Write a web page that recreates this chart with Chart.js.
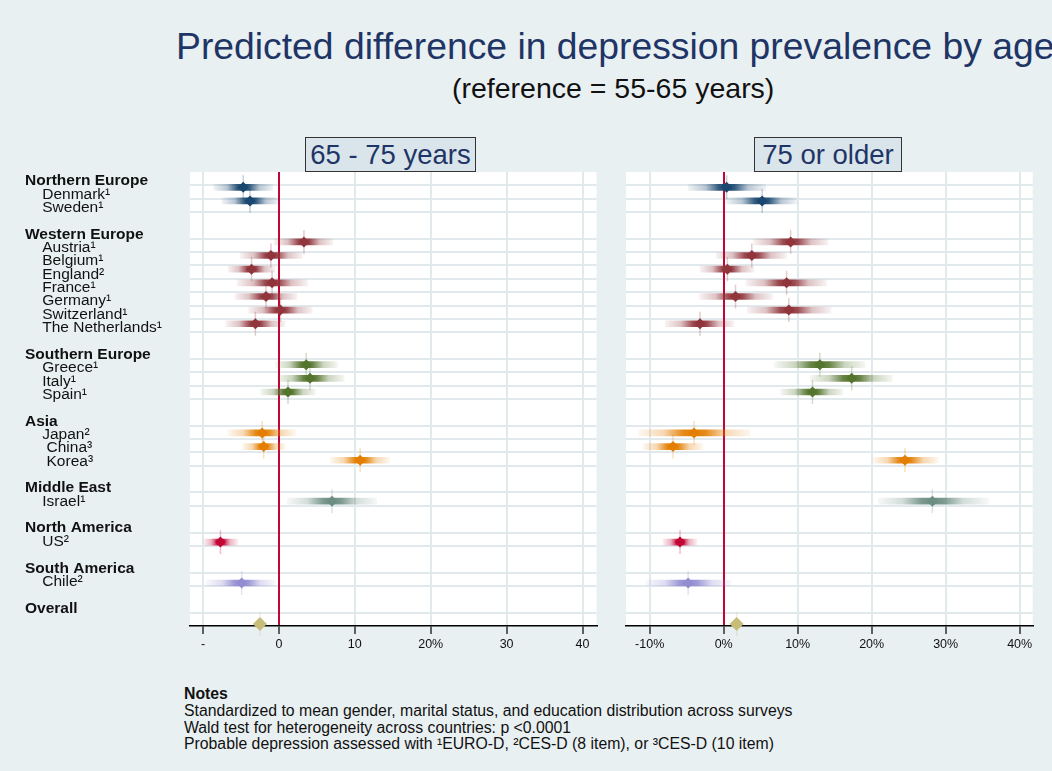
<!DOCTYPE html>
<html>
<head>
<meta charset="utf-8">
<script src="https://cdn.jsdelivr.net/npm/chart.js@4"></script>
<style>
  html, body { margin:0; padding:0; width:1052px; height:771px; overflow:hidden; background:#e9f0f2;
    font-family:"Liberation Sans", Arial, sans-serif; }
  .abs { position:absolute; white-space:nowrap; }
  #title { left:176px; top:28px; font-size:37.3px; line-height:1; color:#1f3566; }
  #subtitle { left:452px; top:74px; font-size:28.5px; line-height:1; color:#111; }
  .panel { box-sizing:border-box; border:1px solid #333; background:#d9e5eb; color:#1f3566;
    font-size:27.5px; text-align:center; height:35px; line-height:33px; top:137px; }
  #notes { left:184px; top:686px; font-size:15.8px; line-height:16.8px; color:#111; }
  canvas { position:absolute; top:0; }
</style>
</head>
<body>
<div id="title" class="abs">Predicted difference in depression prevalence by age</div>
<div id="subtitle" class="abs">(reference = 55-65 years)</div>
<div class="abs panel" style="left:305px;width:171px;">65 - 75 years</div>
<div class="abs panel" style="left:754px;width:148px;">75 or older</div>
<canvas id="left" width="610" height="660" style="left:0"></canvas>
<canvas id="right" width="442" height="660" style="left:610px"></canvas>
<div id="notes" class="abs"><b>Notes</b><br>Standardized to mean gender, marital status, and education distribution across surveys<br>Wald test for heterogeneity across countries: p &lt;0.0001<br>Probable depression assessed with ¹EURO-D, ²CES-D (8 item), or ³CES-D (10 item)</div>
<script>
// row labels of the forest plot (top to bottom)
const rowLabels = [
  'Northern Europe', '    Denmark¹', '    Sweden¹', '',
  'Western Europe', '    Austria¹', '    Belgium¹', '    England²', '    France¹', '    Germany¹',
  '    Switzerland¹', '    The Netherlands¹', '',
  'Southern Europe', '    Greece¹', '    Italy¹', '    Spain¹', '',
  'Asia', '    Japan²', '     China³', '     Korea³', '',
  'Middle East', '    Israel¹', '',
  'North America', '    US²', '',
  'South America', '    Chile²', '',
  'Overall', ''
];
const headerRows = [0, 4, 13, 18, 23, 26, 29, 32];

// one entry per estimate: Denmark .. Chile, Overall
const countryRows = [1, 2, 5, 6, 7, 8, 9, 10, 11, 14, 15, 16, 19, 20, 21, 24, 27, 30, 33];
const countryColors = ['#1a476f', '#1a476f',
  '#90353b', '#90353b', '#90353b', '#90353b', '#90353b', '#90353b', '#90353b',
  '#55752f', '#55752f', '#55752f',
  '#e37e00', '#e37e00', '#e37e00',
  '#6e8e84', '#c10534', '#938dd2', '#c8bd78'];

// 65 - 75 years (percentage points)
const est65 = [-4.7, -3.8, 3.3, -1.05, -3.6, -0.9, -1.7, 0.2, -3.1, 3.6, 4.1, 1.2, -2.2, -2.0, 10.7, 7.0, -7.7, -4.9, -2.5];
const lo65  = [-8.6, -7.5, -0.6, -5.1, -6.7, -5.5, -5.8, -4.0, -7.0, -0.4, -0.2, -2.4, -6.7, -4.8, 6.8, 1.1, -9.9, -9.6, -3.0];
const hi65  = [-0.8, 0.0, 7.1, 3.1, -0.5, 3.8, 2.4, 4.4, 0.8, 7.7, 8.6, 4.8, 2.2, 0.8, 14.6, 12.9, -5.4, -0.4, -2.0];

// 75 or older
const est75 = [0.4, 5.2, 9.05, 3.8, 0.5, 8.5, 1.6, 8.8, -3.2, 13.0, 17.3, 12.0, -4.0, -6.85, 24.5, 28.2, -5.9, -4.8, 1.75];
const lo75  = [-4.8, 0.3, 4.0, -1.0, -3.2, 3.0, -3.3, 3.2, -7.9, 6.9, 11.7, 7.7, -11.5, -10.9, 20.2, 20.9, -8.2, -10.5, 1.3];
const hi75  = [5.7, 9.9, 14.1, 8.5, 4.1, 13.9, 6.6, 14.5, 1.4, 19.1, 22.8, 16.1, 3.6, -2.8, 29.0, 35.8, -3.6, 1.0, 2.2];

const tickValues = [-10, 0, 10, 20, 30, 40];
const ticks65 = ['-', '0', '10', '20%', '30', '40'];
const ticks75 = ['-10%', '0%', '10%', '20%', '30%', '40%'];

const GRID = '#e2e9ed';
const REF = '#c10534';
const FONT = '"Liberation Sans", Arial, sans-serif';

function rgba(hex, a) {
  const n = parseInt(hex.slice(1), 16);
  return `rgba(${n >> 16},${(n >> 8) & 255},${n & 255},${a})`;
}

function ciFill(ctx) {
  const c = countryColors[ctx.dataIndex] || '#888';
  if (ctx.type !== 'data' || !ctx.raw) return c;
  const xs = ctx.chart.scales.x;
  const [lo, hi] = ctx.raw.x;
  const x0 = xs.getPixelForValue(lo), x1 = xs.getPixelForValue(hi);
  const xm = xs.getPixelForValue(ctx.raw.est);
  if (!isFinite(x0) || x1 - x0 < 1) return c;
  let t = (xm - x0) / (x1 - x0);
  t = Math.min(0.98, Math.max(0.02, t));
  const g = ctx.chart.ctx.createLinearGradient(x0, 0, x1, 0);
  g.addColorStop(0, rgba(c, 0.06));
  g.addColorStop(t * 0.45, rgba(c, 0.3));
  g.addColorStop(t * 0.8, rgba(c, 0.9));
  g.addColorStop(t, rgba(c, 1));
  g.addColorStop(t + (1 - t) * 0.2, rgba(c, 0.9));
  g.addColorStop(t + (1 - t) * 0.55, rgba(c, 0.3));
  g.addColorStop(1, rgba(c, 0.06));
  return g;
}

function makePanel(id, est, lo, hi, tickLabels, xmin, xmax, showLabels, padding) {
  const last = est.length - 1;
  return new Chart(document.getElementById(id), {
    type: 'scatter',
    data: {
      datasets: [
        {
          label: 'estimate', order: 0, yAxisID: 'y2', clip: false,
          data: est.map((v, i) => ({ x: v, y: countryRows[i] })),
          pointStyle: 'rectRot',
          pointRadius: est.map((_, i) => i === last ? 7 : 5.5),
          backgroundColor: countryColors, borderWidth: 0
        },
        {
          label: 'tick', order: 1, yAxisID: 'y2', clip: false,
          data: est.map((v, i) => ({ x: v, y: countryRows[i] })),
          pointStyle: 'line', rotation: 90, pointRadius: 12,
          borderColor: countryColors.map(c => rgba(c, 0.25)), borderWidth: 1.5
        },
        {
          type: 'bar', label: 'ci', order: 2, indexAxis: 'y', yAxisID: 'y2', grouped: false,
          data: est.map((v, i) => ({ x: [lo[i], hi[i]], y: countryRows[i], est: v })),
          barThickness: 6, backgroundColor: ciFill, borderWidth: 0
        }
      ]
    },
    options: {
      responsive: false, animation: false, devicePixelRatio: 1,
      layout: { padding },
      plugins: { legend: { display: false }, tooltip: { enabled: false } },
      scales: {
        y: {
          type: 'linear', position: 'left', reverse: true, min: 0, max: 34, offset: false,
          afterBuildTicks: s => { s.ticks = rowLabels.map((_, i) => ({ value: i })); },
          afterFit: s => { s.width = showLabels ? 165 : 0; },
          border: { display: false },
          grid: {
            z: -2, drawTicks: false, lineWidth: 2, offset: false,
            color: c => (c.tick && headerRows.includes(c.tick.value)) ? 'rgba(0,0,0,0)' : GRID
          },
          ticks: {
            display: showLabels, autoSkip: false, crossAlign: 'far', padding: 0, labelOffset: 9,
            color: '#111',
            callback: (v, i) => rowLabels[i],
            font: c => ({ family: FONT, size: 15.5,
              weight: (c.tick && headerRows.includes(c.tick.value)) ? 'bold' : 'normal' })
          }
        },
        y2: {
          type: 'linear', display: false, reverse: true, min: -0.121, max: 33.15,
          offset: false, grid: { offset: false }
        },
        x: {
          type: 'linear', position: 'bottom', min: xmin, max: xmax, beginAtZero: false, offset: false,
          afterBuildTicks: s => { s.ticks = tickValues.map(v => ({ value: v })); },
          afterFit: s => { s.height = 34; },
          border: { display: true, color: '#000', width: 1.5 },
          grid: {
            z: -1, tickLength: 8, tickColor: '#000', tickWidth: 1.2, offset: false,
            color: c => (c.tick && c.tick.value === 0) ? REF : GRID,
            lineWidth: 2
          },
          ticks: {
            padding: 3, color: '#111', font: { family: FONT, size: 12.5 },
            callback: (v, i) => tickLabels[i]
          }
        }
      }
    },
    plugins: [{
      id: 'whiteArea',
      beforeDraw(chart) {
        const a = chart.chartArea, g = chart.ctx;
        g.save(); g.fillStyle = '#fff';
        g.fillRect(a.left, a.top, a.right - a.left, a.bottom - a.top);
        g.restore();
      }
    }]
  });
}

makePanel('left', est65, lo65, hi65, ticks65, -11.71, 41.84, true, { left: 25, right: 13, top: 172, bottom: 0 });
makePanel('right', est75, lo75, hi75, ticks75, -13.2, 41.76, false, { left: 16, right: 19.3, top: 172, bottom: 0 });
</script>
</body>
</html>
